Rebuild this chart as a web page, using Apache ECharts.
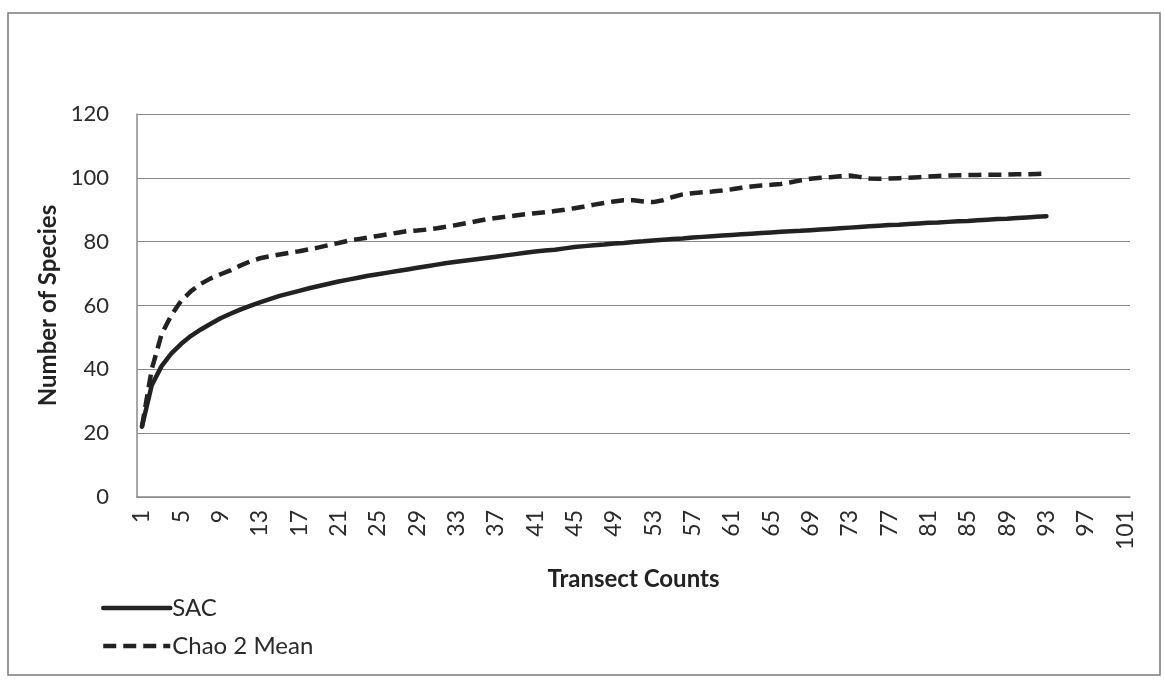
<!DOCTYPE html>
<html>
<head>
<meta charset="utf-8">
<script src="https://cdn.jsdelivr.net/npm/echarts@6/dist/echarts.min.js"></script>
<style>
  html, body { margin: 0; padding: 0; background: #fff; }
  #chart { width: 1164px; height: 680px; }
</style>
</head>
<body>
<div id="chart"></div>
<script>
// Transect numbers 1..101 on the category axis
const transects = [];
for (let i = 1; i <= 101; i++) transects.push(String(i));

// Species accumulation curve (observed), transects 1..93
const sacValues = [
  22, 35, 41, 45, 48, 50.5, 52.5, 54.3, 56, 57.4,
  58.7, 59.9, 61, 62, 63, 63.8, 64.6, 65.4, 66.1, 66.8,
  67.5, 68.1, 68.7, 69.3, 69.8, 70.3, 70.8, 71.3, 71.8, 72.3,
  72.8, 73.3, 73.7, 74.1, 74.5, 74.9, 75.3, 75.7, 76.1, 76.5,
  76.9, 77.2, 77.5, 77.9, 78.3, 78.6, 78.9, 79.1, 79.4, 79.6,
  79.9, 80.1, 80.4, 80.6, 80.8, 81.0, 81.3, 81.5, 81.7, 81.9,
  82.1, 82.3, 82.5, 82.7, 82.9, 83.1, 83.3, 83.4, 83.6, 83.8,
  84.0, 84.2, 84.4, 84.6, 84.8, 85.0, 85.2, 85.3, 85.5, 85.7,
  85.9, 86.0, 86.2, 86.4, 86.5, 86.7, 86.9, 87.1, 87.2, 87.4,
  87.6, 87.8, 88.0
];

// Chao 2 mean richness estimate, transects 1..93
const chaoValues = [
  22, 40, 51, 57, 61.5, 64.5, 66.8, 68.5, 69.8, 71,
  72.5, 73.8, 74.8, 75.4, 76, 76.5, 77, 77.6, 78.2, 78.9,
  79.6, 80.3, 80.8, 81.3, 81.8, 82.3, 82.8, 83.3, 83.5, 83.8,
  84.2, 84.7, 85.2, 85.8, 86.4, 87, 87.4, 87.8, 88.2, 88.6,
  88.9, 89.2, 89.6, 90, 90.5, 91, 91.6, 92.1, 92.6, 93,
  93, 92.6, 92.4, 93, 94, 94.8, 95.2, 95.5, 95.7, 96,
  96.4, 96.9, 97.3, 97.6, 97.8, 98.1, 98.6, 99.2, 99.7, 100,
  100.2, 100.5, 100.7, 100.3, 99.8, 99.7, 99.8, 99.9, 100, 100.2,
  100.4, 100.6, 100.7, 100.8, 100.9, 100.9, 101, 101, 101, 101.1,
  101.1, 101.2, 101.3
];

const FONT = 'Lato, "Open Sans", sans-serif';
const INK = '#222';
const LINE_W = 4.5;
const DASH = [13, 7];

const chart = echarts.init(document.getElementById('chart'), null, { renderer: 'canvas' });

chart.setOption({
  animation: false,
  backgroundColor: '#fff',
  graphic: [{
    type: 'rect',
    shape: { x: 8, y: 13, width: 1152, height: 662 },
    style: { fill: 'none', stroke: '#7a7a7a', lineWidth: 1.5 },
    silent: true
  }],
  grid: { left: 137, right: 34, top: 114, bottom: 183 },
  legend: {
    orient: 'vertical',
    left: 96,
    top: 591,
    itemWidth: 67,
    itemHeight: 14,
    itemGap: 14,
    itemStyle: { opacity: 0 },
    textStyle: { fontFamily: FONT, fontSize: 24, color: '#2a2a2a', padding: [0, 0, 0, -3] },
    data: [
      { name: 'SAC', lineStyle: { width: LINE_W, color: INK, type: 'solid' } },
      { name: 'Chao 2 Mean', lineStyle: { width: LINE_W, color: INK, type: DASH } }
    ]
  },
  xAxis: {
    type: 'category',
    data: transects,
    boundaryGap: true,
    name: 'Transect Counts',
    nameLocation: 'middle',
    nameGap: 70,
    nameTextStyle: { fontFamily: FONT, fontSize: 24, fontWeight: 'bold', color: INK },
    axisLine: { lineStyle: { color: '#8a8a8a', width: 1.5 } },
    axisTick: { show: false },
    axisLabel: {
      interval: 3,
      rotate: 90,
      fontFamily: FONT,
      fontSize: 23,
      color: '#2a2a2a',
      margin: 13
    },
    splitLine: { show: false }
  },
  yAxis: {
    type: 'value',
    min: 0,
    max: 120,
    interval: 20,
    name: 'Number of Species',
    nameLocation: 'middle',
    nameGap: 77,
    nameTextStyle: { fontFamily: FONT, fontSize: 24, fontWeight: 'bold', color: INK },
    axisLine: { show: true, lineStyle: { color: '#8a8a8a', width: 1.5 } },
    axisTick: { show: false },
    axisLabel: { fontFamily: FONT, fontSize: 22, color: '#2a2a2a', margin: 28 },
    splitLine: { show: true, lineStyle: { color: '#8a8a8a', width: 1.2 } }
  },
  series: [
    {
      name: 'SAC',
      type: 'line',
      data: sacValues,
      showSymbol: false,
      symbol: 'none',
      lineStyle: { color: INK, width: LINE_W, cap: 'round', join: 'round' },
      itemStyle: { color: INK }
    },
    {
      name: 'Chao 2 Mean',
      type: 'line',
      data: chaoValues,
      showSymbol: false,
      symbol: 'none',
      lineStyle: { color: INK, width: LINE_W, type: DASH, join: 'round' },
      itemStyle: { color: INK }
    }
  ]
});
</script>
</body>
</html>
